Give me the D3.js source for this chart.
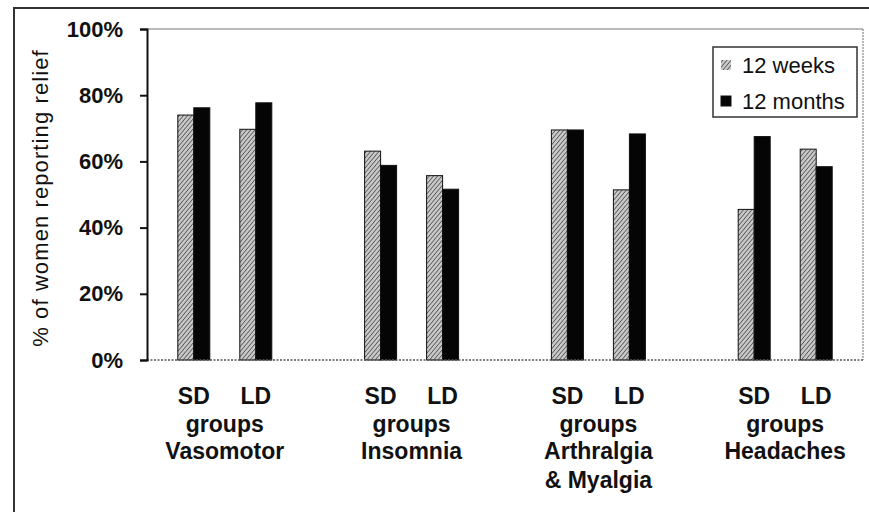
<!DOCTYPE html>
<html>
<head>
<meta charset="utf-8">
<script src="https://cdn.jsdelivr.net/npm/d3@7"></script>
<style>
  html, body { margin: 0; padding: 0; background: #fff; }
  svg { display: block; }
  text { font-family: "Liberation Sans", Arial, Helvetica, sans-serif; fill: #111; }
</style>
</head>
<body>
<svg id="chart" width="869" height="512"></svg>
<script>
// ---- data ----
const groups = ["Vasomotor", "Insomnia", "Arthralgia & Myalgia", "Headaches"];
const groupLabelLines = [["Vasomotor"], ["Insomnia"], ["Arthralgia", "& Myalgia"], ["Headaches"]];
const subgroups = ["SD", "LD"];
const series = ["12 weeks", "12 months"];
// values in %, order: Vasomotor SD, Vasomotor LD, Insomnia SD, Insomnia LD, Arthralgia SD, Arthralgia LD, Headaches SD, Headaches LD
const weeks12  = [74.0, 69.7, 63.1, 55.7, 69.5, 51.4, 45.5, 63.7];
const months12 = [76.2, 77.7, 58.8, 51.6, 69.5, 68.3, 67.5, 58.4];
const yTicks = [0, 20, 40, 60, 80, 100];

// ---- layout ----
const svg = d3.select("#chart");
const plot = { left: 147, top: 29, right: 863, bottom: 360 };

const x0 = d3.scalePoint().domain(groups).range([plot.left, plot.right]).padding(0.4165);
const x1 = d3.scalePoint().domain(subgroups).range([-31, 31]);
const x2 = d3.scaleBand().domain(series).range([-16, 16]);
const y = d3.scaleLinear().domain([0, 100]).range([plot.bottom, plot.top]);

// hatch pattern
const defs = svg.append("defs");
const pat = defs.append("pattern")
  .attr("id", "hatch").attr("patternUnits", "userSpaceOnUse")
  .attr("width", 3.2).attr("height", 3.2)
  .attr("patternTransform", "rotate(40)");
pat.append("rect").attr("width", 3.2).attr("height", 3.2).attr("fill", "#c8c8c8");
pat.append("line").attr("x1", 0).attr("y1", 0).attr("x2", 0).attr("y2", 3.2)
  .attr("stroke", "#3a3a3a").attr("stroke-width", 1.3);

// outer frame (top and left only visible)
svg.append("line").attr("x1", 14).attr("x2", 869).attr("y1", 8).attr("y2", 8)
  .attr("stroke", "#333").attr("stroke-width", 2);
svg.append("line").attr("x1", 14).attr("x2", 14).attr("y1", 7).attr("y2", 512)
  .attr("stroke", "#333").attr("stroke-width", 2);

// plot border (top and right, grey)
svg.append("line").attr("x1", plot.left).attr("x2", plot.right).attr("y1", plot.top).attr("y2", plot.top)
  .attr("stroke", "#777").attr("stroke-width", 1.2);
svg.append("line").attr("x1", plot.right).attr("x2", plot.right).attr("y1", plot.top).attr("y2", plot.bottom)
  .attr("stroke", "#888").attr("stroke-width", 1.2).attr("stroke-dasharray", "2,1");

// bars
const seriesData = [weeks12, months12];
const barData = [];
groups.forEach((g, gi) => {
  subgroups.forEach((s, si) => {
    series.forEach((se, k) => {
      barData.push({ g, s, se, k, v: seriesData[k][gi * 2 + si] });
    });
  });
});
svg.append("g").selectAll("rect").data(barData).join("rect")
  .attr("x", d => x0(d.g) + x1(d.s) + x2(d.se))
  .attr("y", d => y(d.v))
  .attr("width", x2.bandwidth())
  .attr("height", d => y(0) - y(d.v))
  .attr("fill", d => d.k === 0 ? "url(#hatch)" : "#050505")
  .attr("stroke", "#111").attr("stroke-width", 1);

// x axis baseline (dotted)
svg.append("line").attr("x1", plot.left).attr("x2", plot.right).attr("y1", y(0)).attr("y2", y(0))
  .attr("stroke", "#555").attr("stroke-width", 1.5).attr("stroke-dasharray", "2,1.5");

// y axis
const yAxis = d3.axisLeft(y).tickValues(yTicks).tickFormat(d => d + "%").tickSize(7).tickPadding(17);
const ya = svg.append("g").attr("transform", `translate(${plot.left},0)`).call(yAxis);
ya.select(".domain").attr("stroke", "#111").attr("stroke-width", 2);
ya.selectAll(".tick line").attr("stroke", "#111").attr("stroke-width", 2);
ya.selectAll(".tick text").style("font-size", "22px").style("font-weight", "bold")
  .style("font-family", "'Liberation Sans', Arial, sans-serif").attr("fill", "#111");

// y title
svg.append("text")
  .attr("transform", `translate(48,${198}) rotate(-90)`)
  .attr("text-anchor", "middle")
  .style("font-size", "22px").style("letter-spacing", "1.1px")
  .text("% of women reporting relief");

// category labels
const lab = svg.append("g").style("font-size", "23px").style("font-weight", "bold").attr("text-anchor", "middle");
groups.forEach((g, gi) => {
  subgroups.forEach(s => {
    lab.append("text").attr("x", x0(g) + x1(s)).attr("y", 404).text(s);
  });
  lab.append("text").attr("x", x0(g)).attr("y", 432).text("groups");
  groupLabelLines[gi].forEach((ln, li) => {
    lab.append("text").attr("x", x0(g)).attr("y", 459 + li * 29).text(ln);
  });
});

// legend
const lg = svg.append("g");
lg.append("rect").attr("x", 713).attr("y", 47).attr("width", 144).attr("height", 70)
  .attr("fill", "#fff").attr("stroke", "#333").attr("stroke-width", 1.5);
series.forEach((se, k) => {
  const yy = 65 + k * 36;
  lg.append("rect").attr("x", 721).attr("y", yy - 5).attr("width", 10).attr("height", 10)
    .attr("fill", k === 0 ? "url(#hatch)" : "#050505").attr("stroke", k === 0 ? "none" : "#111");
  lg.append("text").attr("x", 742).attr("y", yy + 8).style("font-size", "22px").text(se);
});
</script>
</body>
</html>
